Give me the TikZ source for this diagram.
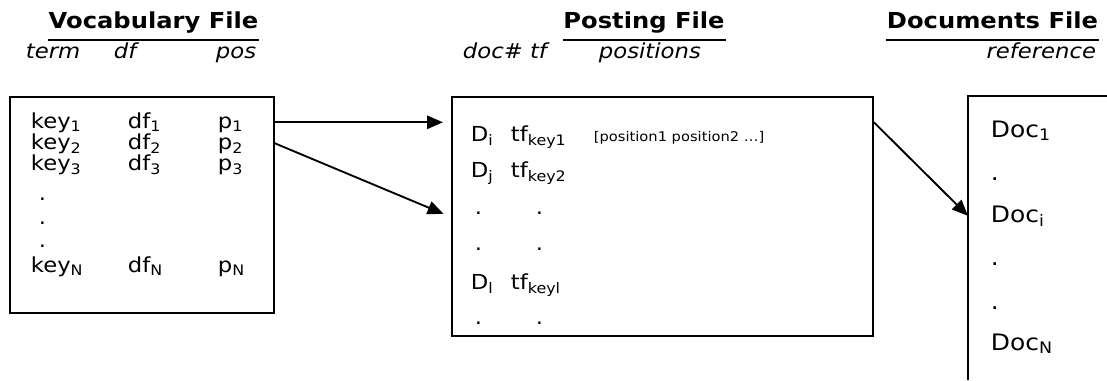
\documentclass[tikz,border=0pt]{standalone}
\usepackage{fontspec}
\setmainfont{DejaVu Sans}[FakeStretch=1.1]
\usetikzlibrary{arrows.meta,calc}

\tikzset{every picture/.style={line width=1.4pt}}
\tikzset{
  filebox/.style={draw, inner sep=0pt, anchor=north west},
  ttl/.style={font=\fontsize{16.5}{18}\selectfont\bfseries, inner sep=0pt, anchor=base},
  uline/.style={line width=1.8pt},
  hdr/.style={font=\fontsize{15.5}{17}\selectfont\itshape, inner sep=0pt, anchor=base west},
  entry/.style={font=\fontsize{15.5}{17}\selectfont, inner sep=0pt, anchor=base west},
  docentry/.style={entry, font=\fontsize{17}{19}\selectfont},
  small/.style={font=\fontsize{10}{12}\selectfont, inner sep=0pt, anchor=base west},
  ptr/.style={-{Triangle[length=12pt,width=10pt]}},
}

\begin{document}
\begin{tikzpicture}[x=0.75pt,y=0.75pt,yscale=-1,xscale=1]
\useasboundingbox (0,0) rectangle (1107,380);

%Titles
\node[ttl] (vtitle) at (153.5,28) {Vocabulary File};
\node[ttl] (ptitle) at (644,28) {Posting File};
\node[ttl] (dtitle) at (992.5,28) {Documents File};
\foreach \t in {vtitle,ptitle,dtitle}
  \draw[uline] ($(\t.base west)+(0,12)$) -- ($(\t.base east)+(0,12)$);

% Column heads
\node[hdr] (hterm) at (25,58) {term};
\node[hdr] (hdf) at (113,58) {df};
\node[hdr] (hpos) at (215,58) {pos};
\node[hdr] (hdoc) at (462,58) {doc\# tf};
\node[hdr] (hplist) at (598,58) {positions};
\node[hdr, anchor=base east] (href) at (1097,58) {reference};

%Shape: Rectangle
\node[filebox, minimum width=198pt, minimum height=162pt] (vocab) at (9,96) {};
%Shape: Rectangle
\node[filebox, minimum width=315.75pt, minimum height=179.25pt] (posting) at (451,96) {};
%Shape: open box, runs off the page
\coordinate (docsw) at (968,96);
\draw (1107,96) -- (docsw) -- (968,380);

% Vocabulary entries
\node[entry] (k1) at (30,128) {key\textsubscript{1}};
\node[entry] (d1) at (127,128) {df\textsubscript{1}};
\node[entry] (p1) at (217,128) {p\textsubscript{1}};
\node[entry] (k2) at (30,149) {key\textsubscript{2}};
\node[entry] (d2) at (127,149) {df\textsubscript{2}};
\node[entry] (p2) at (217,149) {p\textsubscript{2}};
\node[entry] (k3) at (30,170) {key\textsubscript{3}};
\node[entry] (d3) at (127,170) {df\textsubscript{3}};
\node[entry] (p3) at (217,170) {p\textsubscript{3}};
\node[entry] (kdot1) at (38,200) {.};
\node[entry] (kdot2) at (38,224) {.};
\node[entry] (kdot3) at (38,247) {.};
\node[entry] (kN) at (30,272) {key\textsubscript{N}};
\node[entry] (dN) at (127,272) {df\textsubscript{N}};
\node[entry] (pN) at (217,272) {p\textsubscript{N}};

% Posting entries
\node[entry] (di) at (470,141) {D\textsubscript{i}};
\node[entry] (tfi) at (510,141) {tf\textsubscript{key1}};
\node[small] (plist) at (593,141) {[position1 position2 …]};
\node[entry] (dj) at (470,177) {D\textsubscript{j}};
\node[entry] (tfj) at (510,177) {tf\textsubscript{key2}};
\node[entry] (pdot1) at (474,214) {.};
\node[entry] (tdot1) at (535,214) {.};
\node[entry] (pdot2) at (474,250) {.};
\node[entry] (tdot2) at (535,250) {.};
\node[entry] (dl) at (470,289) {D\textsubscript{l}};
\node[entry] (tfl) at (510,289) {tf\textsubscript{keyl}};
\node[entry] (pdot3) at (474,324) {.};
\node[entry] (tdot3) at (535,324) {.};

% Documents entries
\node[docentry] (doc1) at (990,137) {Doc\textsubscript{1}};
\node[docentry] (ddot1) at (990,180) {.};
\node[docentry] (doci) at (990,222) {Doc\textsubscript{i}};
\node[docentry] (ddot2) at (990,265) {.};
\node[docentry] (ddot3) at (990,309) {.};
\node[docentry] (docN) at (990,350) {Doc\textsubscript{N}};

%Arrows
\coordinate (pin) at (451,217);
\draw[ptr, shorten >=6pt] (vocab.east |- k1) -- (posting.west |- k1);
\draw[ptr, shorten >=6pt] (vocab.east |- k2) -- (pin);
\draw[ptr] (posting.east |- k1) -- (docsw |- doci);

\end{tikzpicture}
\end{document}
